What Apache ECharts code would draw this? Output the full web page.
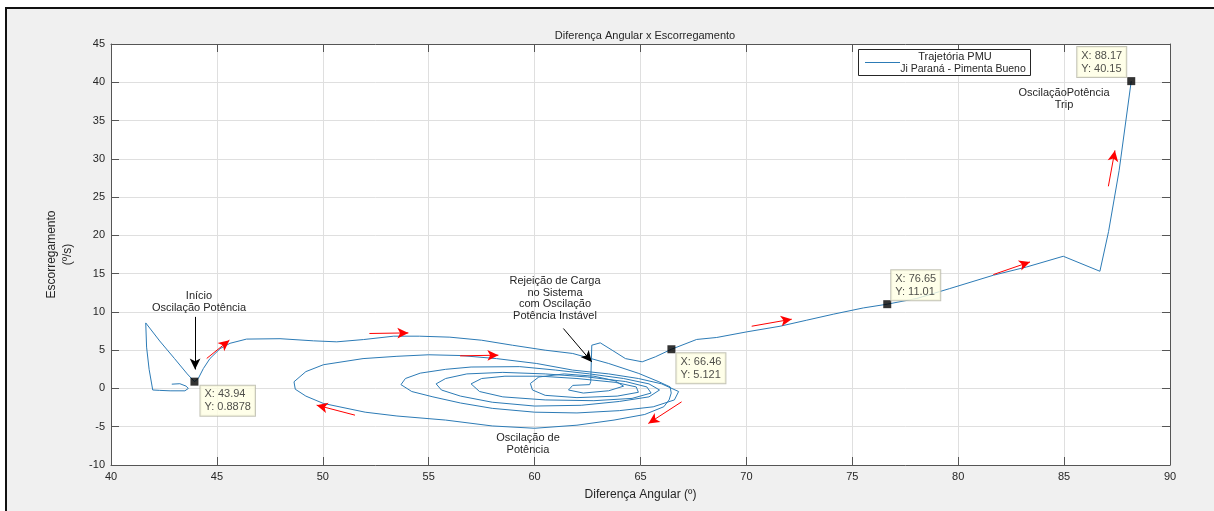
<!DOCTYPE html>
<html>
<head>
<meta charset="utf-8">
<script src="https://cdn.jsdelivr.net/npm/echarts/dist/echarts.min.js"></script>
<style>
  html, body { margin: 0; padding: 0; background: #ffffff; }
  #frame { position: absolute; left: 5px; top: 7px; width: 1209px; height: 504px; background: #f0f0f0;
           border-left: 2px solid #111; border-top: 2px solid #111; box-sizing: border-box; }
  #chart { position: absolute; left: 0; top: 0; width: 1214px; height: 511px; }
</style>
</head>
<body>
<div id="frame"></div>
<div id="chart"></div>
<script>
// ---- Data ----
const seriesName = 'Trajetória PMU';
const legendLine2 = 'Ji Paraná - Pimenta Bueno';

// Trajectory: angle difference (x, degrees) and slip (y, degrees/s), in time order
const angleDiff = [
  42.87, 43.25, 43.55, 43.65, 43.49, 42.79, 42.30, 41.97, 41.80, 41.68, 41.64, 42.30, 43.00, 43.60, 43.94,
  44.12, 44.36, 44.67, 45.15, 45.62, 46.40, 47.98, 49.56, 50.66, 51.93, 53.35, 54.56, 56.00, 57.50, 58.95,
  60.50, 61.80, 63.50, 64.92, 65.87, 66.40, 66.45, 66.35, 66.10, 65.20, 63.75, 62.00, 60.00, 58.00, 55.80,
  53.50, 52.00, 50.03, 49.20, 48.70, 48.64, 49.20, 50.03, 51.90, 53.50, 55.00, 56.50, 58.20, 60.10, 61.80,
  63.50, 64.90, 66.00, 66.80, 66.60, 65.60, 64.00, 62.00, 60.00, 58.00, 56.50, 55.20, 54.20, 53.69, 53.90,
  54.60, 55.80, 57.00, 59.30, 61.00, 62.60, 64.20, 65.40, 65.90, 65.40, 64.00, 62.20, 60.00, 58.00, 56.50,
  55.60, 55.35, 55.80, 56.80, 58.50, 60.50, 62.50, 64.30, 65.30, 65.50, 64.60, 62.80, 60.50, 58.50, 57.40,
  57.00, 57.50, 58.60, 60.30, 62.00, 63.80, 64.80, 64.90, 63.90, 62.00, 60.50, 59.90, 59.80, 60.20, 61.40,
  62.80, 63.80, 64.20, 63.50, 62.30, 61.60, 61.80, 62.60, 62.65, 62.70, 63.10, 63.66, 64.29, 65.08, 65.70,
  66.46, 67.65, 68.60, 70.01, 71.59, 72.85, 74.10, 75.52, 76.65, 78.04, 79.60, 81.66, 83.23, 84.96, 86.69,
  87.10, 87.60, 88.17
];
const slip = [
  0.56, 0.62, 0.30, 0.00, -0.31, -0.31, -0.25, -0.20, 2.50, 5.40, 8.56, 6.20, 3.90, 1.90, 0.8878,
  1.30, 2.60, 3.90, 5.20, 5.90, 6.45, 6.50, 6.22, 6.09, 6.39, 6.83, 6.83, 6.70, 6.30, 5.65,
  5.00, 4.57, 3.26, 1.96, 0.87, 0.20, -0.60, -1.50, -2.39, -3.40, -4.13, -4.80, -5.20, -4.90, -4.13,
  -3.60, -3.10, -1.96, -1.00, -0.10, 0.87, 2.20, 3.10, 3.90, 4.20, 4.40, 4.30, 3.90, 3.26, 2.40,
  1.90, 1.30, 0.60, -0.40, -1.50, -2.40, -2.90, -3.20, -3.10, -2.60, -1.90, -1.10, -0.40, 0.50, 1.30,
  2.00, 2.50, 2.80, 2.85, 2.40, 1.90, 1.30, 0.60, -0.20, -1.10, -1.70, -2.20, -2.30, -1.80, -1.00,
  -0.20, 0.60, 1.30, 1.90, 2.10, 1.90, 1.50, 0.90, 0.20, -0.60, -1.30, -1.60, -1.50, -1.10, -0.40,
  0.60, 1.30, 1.60, 1.60, 1.30, 0.80, 0.20, -0.50, -1.00, -1.20, -0.90, -0.20, 0.65, 1.50, 1.90,
  1.60, 1.00, 0.30, -0.30, -0.60, -0.20, 0.40, 0.50, 0.90, 5.65, 5.96, 5.00, 3.90, 3.48, 4.13,
  5.121, 6.40, 6.66, 7.39, 8.13, 8.92, 9.70, 10.52, 11.01, 11.75, 13.05, 14.79, 15.87, 17.27, 15.31,
  20.50, 28.50, 40.15
];

// Data tips shown on the chart
const tipX = [43.94, 66.46, 76.65, 88.17];
const tipY = [0.8878, 5.121, 11.01, 40.15];

// Axis ranges / ticks
const xMin = 40, xMax = 90, xStep = 5;
const yMin = -10, yMax = 45, yStep = 5;

// Text
const titleText = 'Diferença Angular x Escorregamento';
const xLabel = 'Diferença Angular (º)';
const yLabel = 'Escorregamento\n(º/s)';

// Direction arrows (annotation, data coordinates: x1, y1, x2, y2)
const redArrows = [
  [44.52, 3.92, 45.59, 6.31],
  [52.20, 7.18, 54.04, 7.26],
  [56.48, 4.26, 58.29, 4.35],
  [51.52, -3.49, 49.71, -2.18],
  [66.94, -1.75, 65.37, -4.57],
  [70.25, 8.13, 72.14, 9.05],
  [81.66, 14.88, 83.39, 16.53],
  [87.09, 26.41, 87.40, 31.10]
];
const blackArrows = [
  [43.97, 9.35, 43.97, 2.48],
  [61.36, 7.83, 62.70, 3.47]
];

// ---- Chart ----
const FONT = '"Liberation Sans", Arial, Helvetica, sans-serif';
const AXIS_COLOR = '#555555';
const TEXT_COLOR = '#262626';
const LINE_COLOR = '#2c7bb6';

const chart = echarts.init(document.getElementById('chart'), null, { renderer: 'canvas' });

const tipLabelPos = [[10, 8], [9, 8], [8, -30], [-50, -30]];

const commonAxis = {
  axisLine: { show: true, onZero: false, lineStyle: { color: AXIS_COLOR, width: 1 } },
  axisTick: { show: true, inside: true, length: 8, lineStyle: { color: AXIS_COLOR, width: 1 } },
  splitLine: { show: false },
  minorTick: { show: false }
};

const option = {
  animation: false,
  backgroundColor: 'transparent',
  textStyle: { fontFamily: FONT },
  title: {
    text: titleText,
    left: 640,
    top: 25,
    textAlign: 'center',
    textStyle: { fontSize: 11, fontWeight: 'normal', color: TEXT_COLOR, fontFamily: FONT }
  },
  grid: {
    left: 111, right: 44, top: 44, bottom: 46,
    show: true, backgroundColor: '#ffffff', borderWidth: 0,
    containLabel: false
  },
  xAxis: [
    Object.assign({}, commonAxis, {
      type: 'value', min: xMin, max: xMax, interval: xStep, position: 'bottom',
      splitLine: { show: true, lineStyle: { color: '#dfdfdf', width: 1 } },
      axisLabel: { show: true, color: TEXT_COLOR, fontSize: 11, margin: 6, fontFamily: FONT },
      name: xLabel, nameLocation: 'middle', nameGap: 24,
      nameTextStyle: { color: TEXT_COLOR, fontSize: 12, fontFamily: FONT }
    }),
    Object.assign({}, commonAxis, {
      type: 'value', min: xMin, max: xMax, interval: xStep, position: 'top',
      axisLabel: { show: false }
    })
  ],
  yAxis: [
    Object.assign({}, commonAxis, {
      type: 'value', min: yMin, max: yMax, interval: yStep, position: 'left',
      splitLine: { show: true, lineStyle: { color: '#dfdfdf', width: 1 } },
      axisLabel: { show: true, color: TEXT_COLOR, fontSize: 11, margin: 6, fontFamily: FONT },
      name: yLabel, nameLocation: 'middle', nameGap: 35, nameRotate: 90,
      nameTextStyle: { color: TEXT_COLOR, fontSize: 12, lineHeight: 16, fontFamily: FONT, align: 'center' }
    }),
    Object.assign({}, commonAxis, {
      type: 'value', min: yMin, max: yMax, interval: yStep, position: 'right',
      axisLabel: { show: false }
    })
  ],
  series: [
    {
      name: seriesName,
      type: 'line',
      xAxisIndex: 0, yAxisIndex: 0,
      data: angleDiff.map((x, i) => [x, slip[i]]),
      showSymbol: false,
      symbol: 'none',
      smooth: false,
      silent: true,
      lineStyle: { color: LINE_COLOR, width: 1 },
      itemStyle: { color: LINE_COLOR },
      z: 3,
      markLine: {
        silent: true,
        symbol: ['none', 'arrow'],
        symbolSize: [8, 11],
        label: { show: false },
        lineStyle: { color: '#ff0000', width: 1, type: 'solid' },
        itemStyle: { color: '#ff0000' },
        emphasis: { disabled: true },
        data: redArrows.map(a => [{ coord: [a[0], a[1]] }, { coord: [a[2], a[3]] }])
      }
    },
    {
      name: 'datatips',
      type: 'scatter',
      xAxisIndex: 0, yAxisIndex: 0,
      silent: true,
      symbol: 'rect',
      symbolSize: 8,
      itemStyle: { color: '#000000' },
      z: 5,
      data: tipX.map((x, i) => ({
        value: [x, tipY[i]],
        label: { position: tipLabelPos[i] }
      })),
      label: {
        show: true,
        formatter: p => 'X: ' + p.value[0] + '\nY: ' + p.value[1],
        align: 'left',
        verticalAlign: 'top',
        color: '#222222',
        fontSize: 11,
        lineHeight: 13,
        fontFamily: FONT,
        backgroundColor: '#ffffe4',
        borderColor: '#b5b5a5',
        borderWidth: 1,
        padding: [2, 4, 2, 4]
      },
      markLine: {
        silent: true,
        symbol: ['none', 'arrow'],
        symbolSize: [8, 11],
        label: { show: false },
        lineStyle: { color: '#000000', width: 1, type: 'solid' },
        itemStyle: { color: '#000000' },
        emphasis: { disabled: true },
        data: blackArrows.map(a => [{ coord: [a[0], a[1]] }, { coord: [a[2], a[3]] }])
      }
    }
  ],
  graphic: [
    // Legend box
    { type: 'rect', z: 100, shape: { x: 858.5, y: 49.5, width: 172, height: 26 },
      style: { fill: '#ffffff', stroke: '#262626', lineWidth: 1 } },
    { type: 'line', z: 101, shape: { x1: 865, y1: 62.5, x2: 900, y2: 62.5 },
      style: { stroke: LINE_COLOR, lineWidth: 1 } },
    { type: 'text', z: 101, x: 955, y: 56.5,
      style: { text: seriesName, align: 'center', verticalAlign: 'middle',
               font: '11px ' + FONT, fill: TEXT_COLOR } },
    { type: 'text', z: 101, x: 963, y: 69,
      style: { text: legendLine2, align: 'center', verticalAlign: 'middle',
               font: '10.5px ' + FONT, fill: TEXT_COLOR } },
    // Annotations
    { type: 'text', z: 101, x: 199, y: 302,
      style: { text: 'Início\nOscilação Potência', align: 'center', verticalAlign: 'middle',
               font: '11px ' + FONT, fill: TEXT_COLOR, lineHeight: 12 } },
    { type: 'text', z: 101, x: 555, y: 298.5,
      style: { text: 'Rejeição de Carga\nno Sistema\ncom Oscilação\nPotência Instável', align: 'center',
               verticalAlign: 'middle', font: '11px ' + FONT, fill: TEXT_COLOR, lineHeight: 11.8 } },
    { type: 'text', z: 101, x: 528, y: 444,
      style: { text: 'Oscilação de\nPotência', align: 'center', verticalAlign: 'middle',
               font: '11px ' + FONT, fill: TEXT_COLOR, lineHeight: 12.3 } },
    { type: 'text', z: 101, x: 1064, y: 99,
      style: { text: 'OscilaçãoPotência\nTrip', align: 'center', verticalAlign: 'middle',
               font: '11px ' + FONT, fill: TEXT_COLOR, lineHeight: 12.3 } }
  ]
};

chart.setOption(option);
</script>
</body>
</html>
